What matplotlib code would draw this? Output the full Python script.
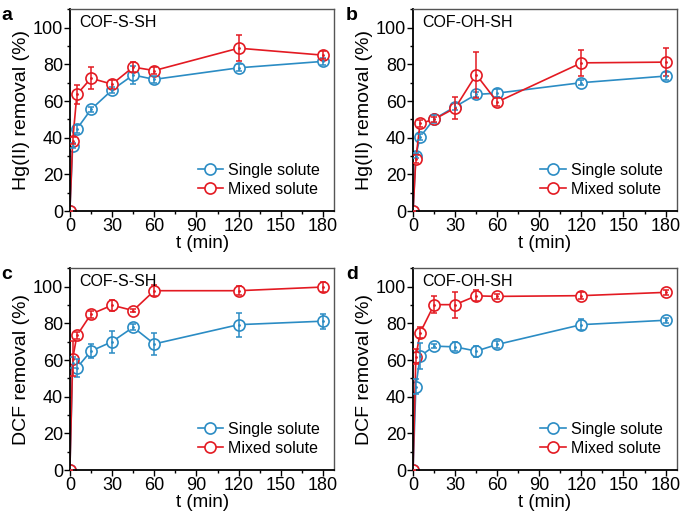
import matplotlib
matplotlib.use("Agg")
import matplotlib.pyplot as plt
from matplotlib.ticker import MultipleLocator

plt.rcParams['font.family'] = ['Liberation Sans', 'DejaVu Sans']

# --- Data ---
t = [0, 2, 5, 15, 30, 45, 60, 120, 180]

hg_s_single = [0, 35.7, 44.8, 55.4, 66.0, 74.2, 71.8, 78.1, 81.6]
hg_s_single_err = [0, 1.5, 2, 1.5, 1.5, 5, 2, 2, 2]
hg_s_mixed = [0, 38.4, 63.6, 72.4, 69.2, 78.5, 76.6, 88.8, 85.0]
hg_s_mixed_err = [0, 2, 5, 6, 2.5, 2.5, 2, 7, 2]

hg_oh_single = [0, 30.3, 40.4, 50.2, 56.9, 63.6, 64.3, 70.0, 73.6]
hg_oh_single_err = [0, 1.5, 1.5, 2, 2, 1.5, 2, 1.5, 2]
hg_oh_mixed = [0, 28.5, 47.8, 50.0, 56.2, 74.4, 59.5, 80.8, 81.2]
hg_oh_mixed_err = [0, 2, 2, 1.5, 6, 12.5, 2, 7, 7.5]

dcf_s_single = [0, 58.5, 55.8, 64.9, 70.0, 77.9, 68.8, 79.3, 81.2]
dcf_s_single_err = [0, 3, 5, 4, 6, 1.5, 6, 6.5, 4]
dcf_s_mixed = [0, 60.7, 73.4, 85.0, 89.9, 87.0, 97.8, 97.8, 99.8]
dcf_s_mixed_err = [0, 9.5, 2, 2, 3, 1, 3, 2.5, 2.5]

dcf_oh_single = [0, 45.5, 62.1, 67.6, 67.2, 64.9, 68.5, 79.3, 81.7]
dcf_oh_single_err = [0, 4, 7, 1, 2.5, 3, 2, 3, 1.5]
dcf_oh_mixed = [0, 61.8, 74.8, 90.2, 90.2, 95.0, 94.7, 95.1, 96.9]
dcf_oh_mixed_err = [0, 4, 3, 4.5, 7, 3, 1.5, 2, 1.5]

blue = '#2b8cc4'
red = '#e31a22'

panels = [
    ('a', 'COF-S-SH', 'Hg(II) removal (%)', hg_s_single, hg_s_single_err, hg_s_mixed, hg_s_mixed_err,
     [0.102, 0.590, 0.386, 0.392]),
    ('b', 'COF-OH-SH', 'Hg(II) removal (%)', hg_oh_single, hg_oh_single_err, hg_oh_mixed, hg_oh_mixed_err,
     [0.603, 0.590, 0.385, 0.392]),
    ('c', 'COF-S-SH', 'DCF removal (%)', dcf_s_single, dcf_s_single_err, dcf_s_mixed, dcf_s_mixed_err,
     [0.102, 0.087, 0.386, 0.392]),
    ('d', 'COF-OH-SH', 'DCF removal (%)', dcf_oh_single, dcf_oh_single_err, dcf_oh_mixed, dcf_oh_mixed_err,
     [0.603, 0.087, 0.385, 0.392]),
]

fig = plt.figure(figsize=(6.85, 5.15), dpi=100)

for letter, title, ylabel, ys, es, ym, em, pos in panels:
    ax = fig.add_axes(pos)
    for y, e, c, lab in [(ys, es, blue, 'Single solute'), (ym, em, red, 'Mixed solute')]:
        ax.plot(t, y, '-o', color=c, lw=1.2, ms=8, mfc='white', mec=c, mew=1.2, label=lab, zorder=2)
        ax.errorbar(t, y, yerr=e, fmt='.', color=c, ms=2, elinewidth=1.1, capsize=2, capthick=1.1, zorder=3)

    ax.set_xlim(0, 188)
    ax.set_ylim(0, 110)
    ax.xaxis.set_major_locator(MultipleLocator(30))
    ax.xaxis.set_minor_locator(MultipleLocator(15))
    ax.yaxis.set_major_locator(MultipleLocator(20))
    ax.yaxis.set_minor_locator(MultipleLocator(10))
    ax.tick_params(which='major', direction='out', length=4, width=1, labelsize=13, pad=1)
    ax.tick_params(which='minor', direction='out', length=2.5, width=1)
    for s in ['left', 'bottom']:
        ax.spines[s].set_linewidth(1.3)
        ax.spines[s].set_color('black')
    for s in ['top', 'right']:
        ax.spines[s].set_linewidth(1.0)
        ax.spines[s].set_color('#555555')

    ax.set_xlabel('t (min)', fontsize=13.5, labelpad=0)
    ax.set_ylabel(ylabel, fontsize=14, labelpad=2)
    ax.text(0.035, 0.97, title, transform=ax.transAxes, fontsize=11.5, ha='left', va='top')
    ax.legend(loc='lower right', frameon=False, fontsize=11.5, handlelength=1.6,
              handletextpad=0.3, borderaxespad=0.5, labelspacing=0.25)

    x0 = pos[0] - 0.1 if letter in 'ac' else pos[0] - 0.098
    fig.text(x0, pos[1] + pos[3] + 0.005, letter, fontsize=14, fontweight='bold', ha='left', va='top')

fig.savefig('out.png', dpi=100)
